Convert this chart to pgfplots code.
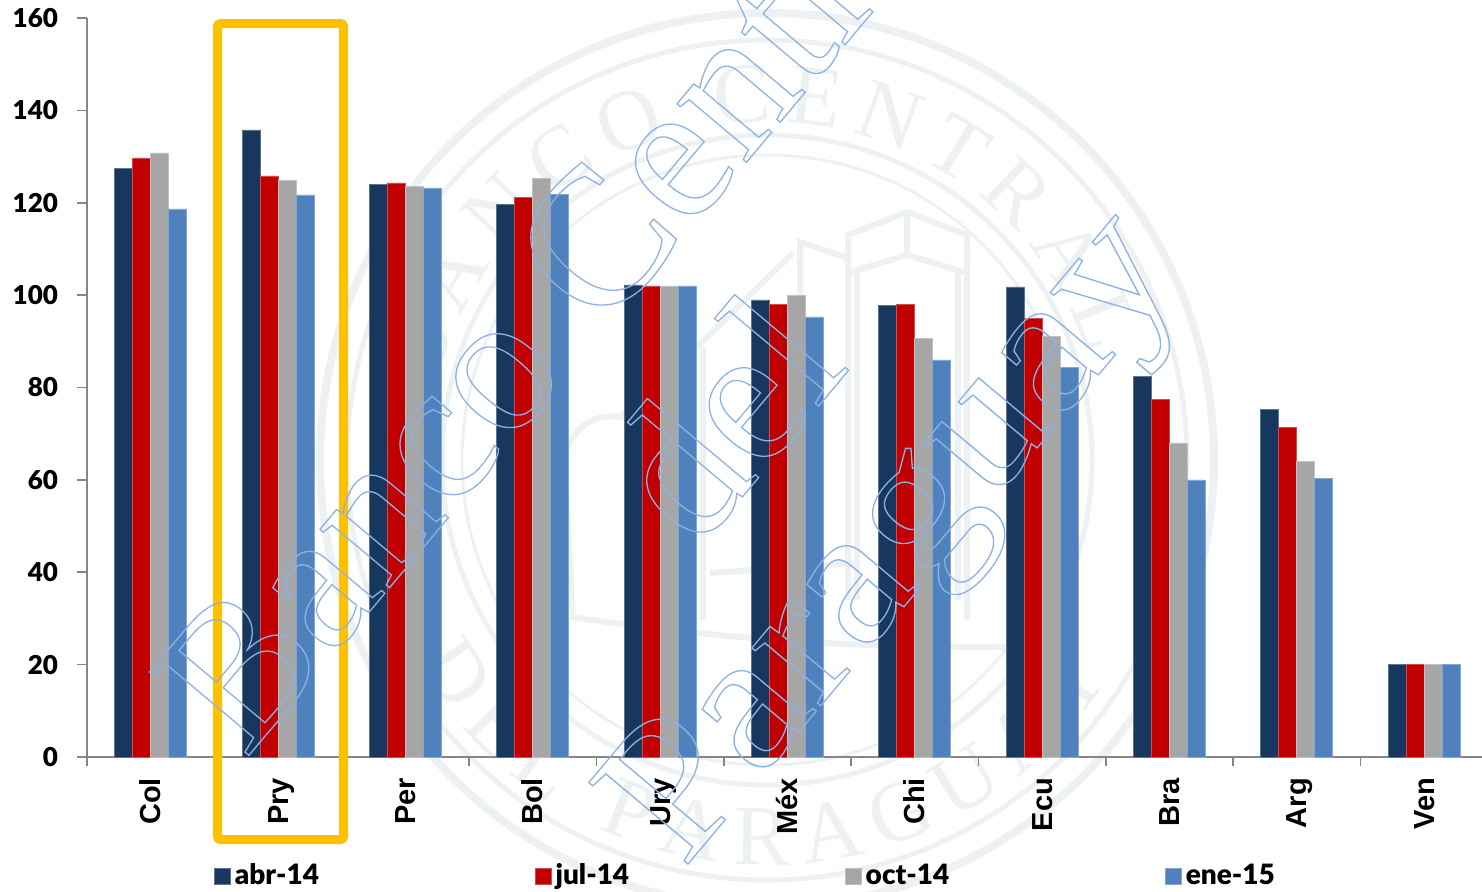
\documentclass[border=0pt]{standalone}
\usepackage{fontspec}
\setmainfont{Lato}[BoldFont={Lato Black}]
\newfontfamily\xlab{Liberation Sans}
\newfontfamily\wm{Liberation Serif}
\usepackage{pgfplots}
\pgfplotsset{compat=1.18}
\usetikzlibrary{decorations.text}

\definecolor{serA}{HTML}{17375E}
\definecolor{serB}{HTML}{C00000}
\definecolor{serC}{HTML}{A6A6A6}
\definecolor{serD}{HTML}{4F81BD}
\definecolor{seal}{HTML}{EDF1F2}
\definecolor{axisgray}{HTML}{868686}

% outlined watermark text
\newcommand{\outl}[1]{\special{pdf:code 1 Tr 0.65 w 0.55 0.70 0.89 RG}#1\special{pdf:code 0 Tr}}

\begin{document}
\begin{tikzpicture}[x=0.5pt,y=-0.5pt]
\useasboundingbox (0,0) rectangle (1482,891);

% seal behind the chart
\begin{scope}[draw=seal]
\draw[line width=4pt] (767,460) circle (447);
\draw[line width=2.5pt] (767,460) circle (420);
\draw[line width=2.5pt] (767,460) circle (325);
\draw[line width=1.5pt] (767,460) circle (305);
\path[decorate,decoration={text along path,text align={fit to path},
  text={|\fontsize{43}{43}\wm\color{seal}|BANCO CENTRAL}}]
  (767,460) ++(-167:338) arc[start angle=-167,end angle=-18,radius=338];
\path[decorate,decoration={text along path,text align={fit to path},
  text={|\fontsize{43}{43}\wm\color{seal}|DEL PARAGUAY}}]
  (767,460) ++(150:405) arc[start angle=150,end angle=32,radius=405];
% building
\draw[line width=3pt] (848,600) -- (848,235) -- (907,212) -- (967,235) -- (967,620);
\draw[line width=3pt] (907,212) -- (907,255);
\draw[line width=3pt] (848,273) -- (907,255) -- (967,273);
\draw[line width=3pt] (857,600) -- (857,273);
\draw[line width=3pt] (958,600) -- (958,273);
\draw[line width=3pt] (848,258) -- (800,242) -- (800,600);
\draw[line width=3pt] (793,253) -- (697,347) -- (620,417) arc[start angle=-80,end angle=-180,radius=47] -- (573,620);
\draw[line width=3pt] (703,347) -- (703,620);
\draw[line width=3pt] (710,573) -- (853,563);
\draw[line width=3pt] (570,617) to[bend right=4] (1020,647);
\end{scope}

\begin{axis}[
    at={(43.5pt,-378.5pt)}, anchor=south west,
    scale only axis,
    width=697.5pt, height=369.5pt,
    xmin=-0.5, xmax=10.455,
    ymin=0, ymax=160,
    ybar=0pt, bar width=9pt,
    axis lines=left,
    axis line style={-,axisgray,line width=0.9pt},
    xtick={0,...,10},
    xticklabels={Col,Pry,Per,Bol,Ury,Méx,Chi,Ecu,Bra,Arg,Ven},
    minor xtick={-0.5,0.5,...,9.5},
    ytick={0,20,...,160},
    tick align=outside,
    major x tick style={draw=none},
    every tick/.append style={axisgray,line width=0.8pt},
    minor tick length=4.5pt,
    major tick length=5pt,
    x tick label style={rotate=90,anchor=east,font=\xlab\fontsize{14.5}{14.5}\selectfont\bfseries,yshift=-1.5pt,xshift=-2pt,text height=10pt,text depth=3pt},
    y tick label style={font=\fontsize{13}{13}\selectfont\bfseries,xshift=-6pt},
    /pgf/number format/assume math mode=true,
    legend columns=4,
    legend style={at={(0.091,-0.183)},anchor=south west,draw=none,fill=none,inner sep=0pt,
      font=\fontsize{14}{14}\selectfont\bfseries,
      /tikz/every even column/.append style={column sep=106pt}},
    legend cell align=left,
    legend image code/.code={\fill[#1] (0pt,-4pt) rectangle (8pt,4pt);},
    clip=false,
]
\addplot[fill=serA,draw=serA!70!white,line width=0.25pt] coordinates {(0,127.5)(1,135.8)(2,124)(3,119.7)(4,102.2)(5,99)(6,97.8)(7,101.8)(8,82.4)(9,75.2)(10,20)};
\addlegendentry{abr-14}
\addplot[fill=serB,draw=serB!70!white,line width=0.25pt] coordinates {(0,129.7)(1,125.8)(2,124.3)(3,121.2)(4,102)(5,98)(6,98)(7,95)(8,77.5)(9,71.4)(10,20)};
\addlegendentry{jul-14}
\addplot[fill=serC,draw=serC!70!white,line width=0.25pt] coordinates {(0,130.8)(1,124.9)(2,123.5)(3,125.3)(4,102)(5,100)(6,90.7)(7,91)(8,68)(9,64)(10,20)};
\addlegendentry{oct-14}
\addplot[fill=serD,draw=serD!70!white,line width=0.25pt] coordinates {(0,118.7)(1,121.7)(2,123.2)(3,121.8)(4,102)(5,95.3)(6,86)(7,84.3)(8,60)(9,60.4)(10,20)};
\addlegendentry{ene-15}
\end{axis}

% highlight box
\draw[color={rgb,255:red,255;green,192;blue,0},line width=4.5pt,rounded corners=1.5pt] (217.5,23.5) rectangle (343.5,839.5);

% watermark
\node[rotate=50,anchor=base west,inner sep=0pt] at (245,760) {\wm\fontsize{99}{99}\selectfont\outl{Banco Central}};
\node[rotate=50,anchor=base west,inner sep=0pt] at (697,551) {\wm\fontsize{98}{98}\selectfont\outl{del}};
\node[rotate=50,xscale=1.07,anchor=base west,inner sep=0pt] at (683,870) {\wm\fontsize{98}{98}\selectfont\outl{Paraguay}};
\end{tikzpicture}
\end{document}
